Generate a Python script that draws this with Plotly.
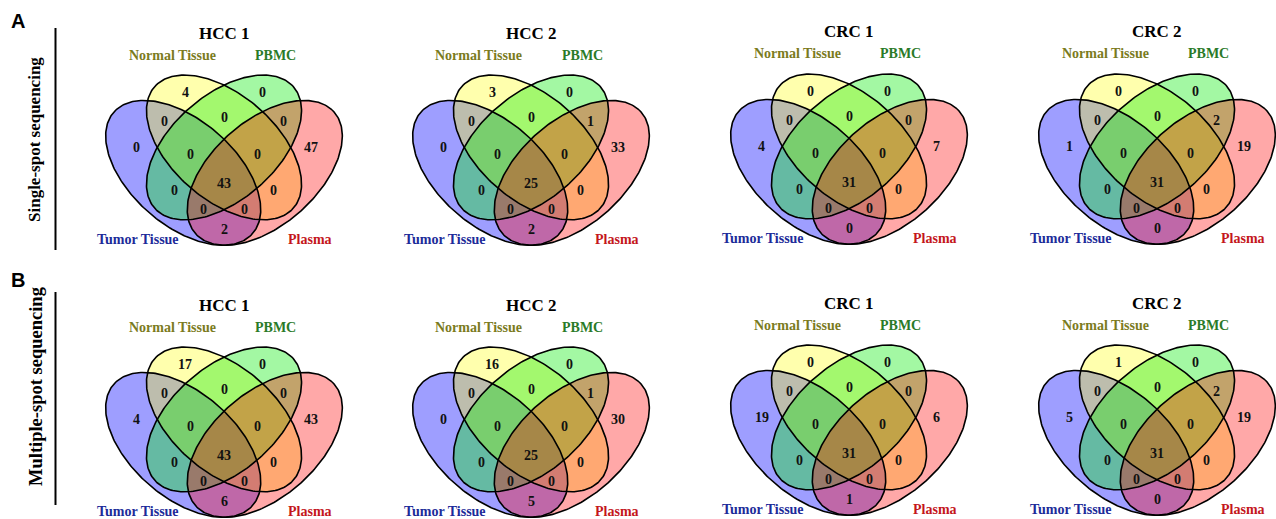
import numpy as np
import plotly.graph_objects as go

W, H = 1276, 519

# ---- data -------------------------------------------------------------
set_names = ["Tumor Tissue", "Normal Tissue", "PBMC", "Plasma"]
set_fill = ["rgba(0,0,255,0.38)", "rgba(255,255,0,0.32)",
            "rgba(0,235,0,0.36)", "rgba(255,0,0,0.34)"]
set_label_color = ["#1c2b99", "#7b7b1e", "#2a7a28", "#c4161c"]

# Region membership (T = Tumor, N = Normal, P = PBMC, Pl = Plasma)
region_keys = ["N", "P", "TN", "NP", "PPl", "T", "Pl", "TNP", "NPPl",
               "TNPPl", "TP", "NPl", "TPPl", "TNPl", "TPl"]

hcc1_single = [4, 0, 0, 0, 0, 0, 47, 0, 0, 43, 0, 0, 0, 0, 2]
hcc2_single = [3, 0, 0, 0, 1, 0, 33, 0, 0, 25, 0, 0, 0, 0, 2]
crc1_single = [0, 0, 0, 0, 0, 4, 7, 0, 0, 31, 0, 0, 0, 0, 0]
crc2_single = [0, 0, 0, 0, 2, 1, 19, 0, 0, 31, 0, 0, 0, 0, 0]
hcc1_multi = [17, 0, 0, 0, 0, 4, 43, 0, 0, 43, 0, 0, 0, 0, 6]
hcc2_multi = [16, 0, 0, 0, 1, 0, 30, 0, 0, 25, 0, 0, 0, 0, 5]
crc1_multi = [0, 0, 0, 0, 0, 19, 6, 0, 0, 31, 0, 0, 0, 0, 1]
crc2_multi = [1, 0, 0, 0, 2, 5, 19, 0, 0, 31, 0, 0, 0, 0, 0]

panel_titles = ["HCC 1", "HCC 2", "CRC 1", "CRC 2"]
row_titles = ["Single-spot sequencing", "Multiple-spot sequencing"]
row_tags = ["A", "B"]
rows = [[hcc1_single, hcc2_single, crc1_single, crc2_single],
        [hcc1_multi, hcc2_multi, crc1_multi, crc2_multi]]

# ---- four-set ellipse Venn layout (unit coordinates) -------------------
ellipses = [  # cx, cy, a, b, angle of major axis (deg)
    (0.35, 0.47, 0.35, 0.20, 135),
    (0.50, 0.57, 0.35, 0.20, 135),
    (0.50, 0.57, 0.35, 0.20, 45),
    (0.65, 0.47, 0.35, 0.20, 45),
]
region_anchor = {
    "N": (0.358, 0.788), "P": (0.642, 0.788),
    "TN": (0.280, 0.674), "NP": (0.50, 0.686), "PPl": (0.720, 0.674),
    "T": (0.18, 0.568), "Pl": (0.82, 0.568),
    "TNP": (0.378, 0.544), "NPPl": (0.622, 0.544),
    "TNPPl": (0.50, 0.430),
    "TP": (0.318, 0.402), "NPl": (0.682, 0.402),
    "TPPl": (0.425, 0.324), "TNPl": (0.575, 0.324),
    "TPl": (0.50, 0.245),
}
U0, V0 = 0.5, 0.430          # reference point of each panel
SX, SY = 272.0, 254.0        # pixels per unit
col_cx = [224, 531, 849, 1157]
row_cy = [[183, 183, 182, 182], [455, 455, 453, 453]]

serif = "Liberation Serif"


def ellipse_xy(cx, cy, a, b, ang, n=240):
    t = np.linspace(0, 2 * np.pi, n)
    th = np.deg2rad(ang)
    x = cx + a * np.cos(t) * np.cos(th) - b * np.sin(t) * np.sin(th)
    y = cy + a * np.cos(t) * np.sin(th) + b * np.sin(t) * np.cos(th)
    return x, y


fig = go.Figure()
layout_axes = {}
annotations = []
k = 0
for r, row in enumerate(rows):
    for c, counts in enumerate(row):
        k += 1
        cx, cy = col_cx[c], row_cy[r][c]
        x0, x1 = max(cx - 150, 0), min(cx + 150, W)
        ytop, ybot = cy - 170, min(cy + 66, H)
        xr = [U0 + (x0 - cx) / SX, U0 + (x1 - cx) / SX]
        yr = [V0 - (ybot - cy) / SY, V0 + (cy - ytop) / SY]
        xa = "xaxis" if k == 1 else f"xaxis{k}"
        ya = "yaxis" if k == 1 else f"yaxis{k}"
        xref = "x" if k == 1 else f"x{k}"
        yref = "y" if k == 1 else f"y{k}"
        layout_axes[xa] = dict(domain=[x0 / W, x1 / W], range=xr, visible=False,
                               anchor=yref, fixedrange=True)
        layout_axes[ya] = dict(domain=[1 - ybot / H, 1 - ytop / H], range=yr,
                               visible=False, anchor=xref, fixedrange=True)
        # translucent fills, drawn first so every outline stays on top
        for (ex, ey, a, b, ang), col in zip(ellipses, set_fill):
            x, y = ellipse_xy(ex, ey, a, b, ang)
            fig.add_trace(go.Scatter(x=x, y=y, mode="lines", fill="toself",
                                     fillcolor=col, line=dict(width=0),
                                     hoverinfo="skip", showlegend=False,
                                     xaxis=xref, yaxis=yref))
        for (ex, ey, a, b, ang) in ellipses:
            x, y = ellipse_xy(ex, ey, a, b, ang)
            fig.add_trace(go.Scatter(x=x, y=y, mode="lines",
                                     line=dict(color="black", width=1.6),
                                     hoverinfo="skip", showlegend=False,
                                     xaxis=xref, yaxis=yref))
        # region counts
        for key, val in zip(region_keys, counts):
            ux, vy = region_anchor[key]
            annotations.append(dict(x=ux, y=vy, xref=xref, yref=yref,
                                    text=str(val), showarrow=False,
                                    xanchor="center", yanchor="middle",
                                    font=dict(family=serif, size=14, color="#111",
                                              weight="bold")))
        # panel title
        annotations.append(dict(x=U0, y=V0 + 150 / SY, xref=xref, yref=yref,
                                text=panel_titles[c], showarrow=False,
                                xanchor="center", yanchor="middle",
                                font=dict(family=serif, size=17, color="black",
                                          weight="bold")))
        # set names
        name_pos = [(-86, -56), (-52, 128), (51, 128), (86, -56)]
        for (dx, dy), name, col in zip(name_pos, set_names, set_label_color):
            annotations.append(dict(x=U0 + dx / SX, y=V0 + dy / SY, xref=xref, yref=yref,
                                    text=name, showarrow=False,
                                    xanchor="center", yanchor="middle",
                                    font=dict(family=serif, size=14, color=col,
                                              weight="bold")))

# row decorations
row_tag_y = [21, 280]
row_title_x = [34, 36]
row_title_y = [140, 386]
row_title_size = [17, 18.5]
row_line = [(28, 250), (292, 505)]
shapes = []
for r in range(2):
    annotations.append(dict(x=18 / W, y=1 - row_tag_y[r] / H, xref="paper", yref="paper",
                            text=row_tags[r], showarrow=False,
                            xanchor="center", yanchor="middle",
                            font=dict(family="Liberation Sans", size=20, color="black",
                                      weight="bold")))
    annotations.append(dict(x=row_title_x[r] / W, y=1 - row_title_y[r] / H,
                            xref="paper", yref="paper",
                            text=row_titles[r], showarrow=False, textangle=-90,
                            xanchor="center", yanchor="middle",
                            font=dict(family=serif, size=row_title_size[r],
                                      color="black", weight="bold")))
    y0, y1 = row_line[r]
    shapes.append(dict(type="line", xref="paper", yref="paper",
                       x0=55.5 / W, x1=55.5 / W, y0=1 - y0 / H, y1=1 - y1 / H,
                       line=dict(color="black", width=2)))

fig.update_layout(width=W, height=H, autosize=False,
                  margin=dict(l=0, r=0, t=0, b=0),
                  paper_bgcolor="white", plot_bgcolor="rgba(0,0,0,0)",
                  annotations=annotations, shapes=shapes, **layout_axes)
fig.write_html("out.html", config={"displayModeBar": False})
